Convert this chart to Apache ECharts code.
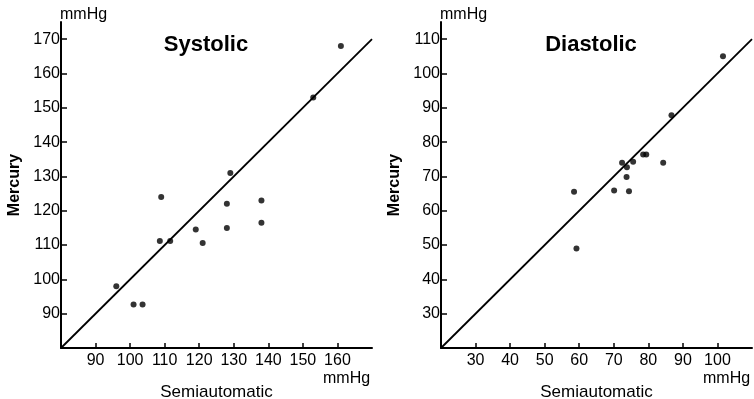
<!DOCTYPE html>
<html>
<head>
<meta charset="utf-8">
<script src="https://cdn.jsdelivr.net/npm/echarts@6/dist/echarts.min.js"></script>
<style>
  html, body { margin: 0; background: #fff; }
  #chart { width: 754px; height: 399px; }
</style>
</head>
<body>
<div id="chart"></div>
<script>
// readings as [semiautomatic, mercury], mmHg
var systolic = [
  [161, 168], [153, 153], [129, 131], [109, 124], [138, 123], [128, 122],
  [138, 116.5], [128, 115], [119, 114.5], [121, 110.6], [108.6, 111.2],
  [111.6, 111.2], [96, 98], [101, 92.7], [103.6, 92.7]
];
var diastolic = [
  [101.6, 105], [86.7, 87.8], [78.5, 76.4], [79.4, 76.4], [84.3, 74],
  [72.4, 74], [75.6, 74.3], [73.8, 72.7], [73.7, 69.8], [58.5, 65.5],
  [70.1, 65.9], [74.4, 65.7], [59.2, 49]
];
// line of identity
var sysLine = [[80, 80], [170, 170]];
var diaLine = [[20, 20], [110, 110]];

// tick labels
var sysXTicks = [90, 100, 110, 120, 130, 140, 150, 160];
var sysYTicks = [90, 100, 110, 120, 130, 140, 150, 160, 170];
var diaXTicks = [30, 40, 50, 60, 70, 80, 90, 100];
var diaYTicks = [30, 40, 50, 60, 70, 80, 90, 100, 110];

var FONT = '"Liberation Sans", Arial, sans-serif';

function xAxis(idx, min, max, ticks) {
  return {
    type: 'value', gridIndex: idx, min: min, max: max,
    name: 'Semiautomatic', nameLocation: 'middle', nameGap: 36,
    nameTextStyle: { color: '#000', fontSize: 17, fontFamily: FONT },
    axisLine: { lineStyle: { color: '#000', width: 2 } },
    axisTick: { inside: true, length: 5, customValues: ticks, lineStyle: { color: '#000', width: 1.5 } },
    axisLabel: { customValues: ticks, color: '#000', fontSize: 16, fontFamily: FONT, margin: 5 },
    splitLine: { show: false }
  };
}
function yAxis(idx, min, max, ticks) {
  return {
    type: 'value', gridIndex: idx, min: min, max: max,
    name: 'Mercury', nameLocation: 'middle', nameGap: 38, nameRotate: 90,
    nameTextStyle: { color: '#000', fontSize: 16, fontWeight: 'bold', fontFamily: FONT },
    axisLine: { lineStyle: { color: '#000', width: 2 } },
    axisTick: { inside: true, length: 6, customValues: ticks, lineStyle: { color: '#000', width: 1.5 } },
    axisLabel: { customValues: ticks, color: '#000', fontSize: 16, fontFamily: FONT, margin: 1 },
    splitLine: { show: false }
  };
}
function unitText(x, y) {
  return {
    type: 'text', x: x, y: y,
    style: { text: 'mmHg', fill: '#000', font: '16px ' + FONT, verticalAlign: 'middle' }
  };
}

var chart = echarts.init(document.getElementById('chart'));
chart.setOption({
  animation: false,
  title: [
    { text: 'Systolic', left: 201, top: 29, textAlign: 'center',
      textStyle: { color: '#000', fontSize: 22, fontWeight: 'bold', fontFamily: FONT } },
    { text: 'Diastolic', left: 586, top: 29, textAlign: 'center',
      textStyle: { color: '#000', fontSize: 22, fontWeight: 'bold', fontFamily: FONT } }
  ],
  grid: [
    { left: 61, top: 22, width: 311, height: 326, outerBoundsMode: 'none', containLabel: false },
    { left: 441, top: 22, width: 311, height: 326, outerBoundsMode: 'none', containLabel: false }
  ],
  xAxis: [xAxis(0, 80, 170, sysXTicks), xAxis(1, 20, 110, diaXTicks)],
  yAxis: [yAxis(0, 80, 175, sysYTicks), yAxis(1, 20, 115, diaYTicks)],
  graphic: [unitText(60, 15), unitText(440, 15), unitText(323, 379), unitText(703, 379)],
  series: [
    { type: 'line', xAxisIndex: 0, yAxisIndex: 0, data: sysLine, symbol: 'none',
      lineStyle: { color: '#000', width: 1.8 } },
    { type: 'scatter', xAxisIndex: 0, yAxisIndex: 0, data: systolic, symbolSize: 6,
      itemStyle: { color: '#000' } },
    { type: 'line', xAxisIndex: 1, yAxisIndex: 1, data: diaLine, symbol: 'none',
      lineStyle: { color: '#000', width: 1.8 } },
    { type: 'scatter', xAxisIndex: 1, yAxisIndex: 1, data: diastolic, symbolSize: 6,
      itemStyle: { color: '#000' } }
  ]
});
</script>
</body>
</html>
